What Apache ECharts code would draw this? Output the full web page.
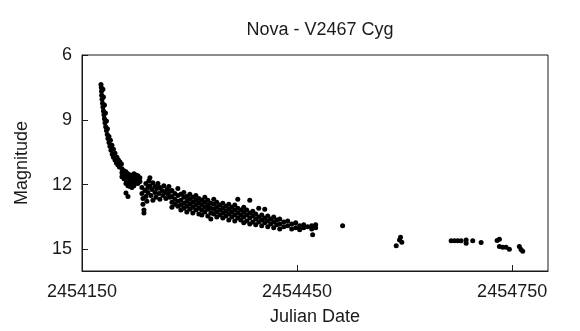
<!DOCTYPE html>
<html>
<head>
<meta charset="utf-8">
<title>Nova - V2467 Cyg</title>
<script src="https://cdn.jsdelivr.net/npm/echarts@6/dist/echarts.min.js"></script>
<style>
  html, body { margin: 0; padding: 0; background: #fff; }
  #chart { width: 580px; height: 331px; }
</style>
</head>
<body>
<div id="chart"></div>
<script>
// axis ticks
var xTicks = [2454150, 2454450, 2454750];
var yTicks = [6, 9, 12, 15];

// observations [Julian Date, magnitude], read off the picture
// fast decline right after discovery
var declineObs = [
  [2454176.5, 7.36], [2454176.9, 7.50], [2454177.2, 7.68], [2454177.4, 7.86], [2454177.9, 8.05],
  [2454178.6, 8.23], [2454179.2, 8.41], [2454179.9, 8.59], [2454180.6, 8.77], [2454181.3, 8.95],
  [2454182.0, 9.14], [2454183.0, 9.32], [2454184.1, 9.50], [2454185.2, 9.68], [2454186.2, 9.86],
  [2454187.6, 10.05], [2454189.0, 10.23], [2454190.4, 10.41], [2454192.2, 10.59], [2454193.9, 10.73],
  [2454196.0, 10.86], [2454198.0, 11.00], [2454200.1, 11.09], [2454202.2, 11.18],
  [2454179.2, 7.59], [2454179.9, 7.95], [2454181.3, 8.32], [2454182.7, 8.68], [2454184.1, 9.05],
  [2454185.5, 9.41], [2454187.6, 9.77], [2454189.7, 9.95], [2454191.8, 10.18], [2454193.9, 10.36],
  [2454196.0, 10.55], [2454198.7, 10.73], [2454200.8, 10.86], [2454202.9, 10.95], [2454205.0, 11.05]
];

// flat block around mag 11.5 - 12
var plateauObs = [
  [2454205.7, 11.27], [2454205.7, 11.45], [2454205.7, 11.64], [2454208.5, 11.36], [2454208.5, 11.55],
  [2454208.5, 11.73], [2454211.3, 11.41], [2454211.3, 11.59], [2454211.3, 11.77], [2454211.3, 11.95],
  [2454214.1, 11.50], [2454214.1, 11.68], [2454214.1, 11.86], [2454214.1, 12.05], [2454216.9, 11.55],
  [2454216.9, 11.73], [2454216.9, 11.91], [2454216.9, 12.09], [2454219.6, 11.59], [2454219.6, 11.77],
  [2454219.6, 11.95], [2454219.6, 12.14], [2454222.4, 11.50], [2454222.4, 11.68], [2454222.4, 11.86],
  [2454222.4, 12.05], [2454225.2, 11.55], [2454225.2, 11.73], [2454225.2, 11.91], [2454228.0, 11.59],
  [2454228.0, 11.77], [2454228.0, 11.95], [2454230.8, 11.68], [2454230.8, 11.86],
  [2454211.3, 12.39], [2454214.1, 12.55]
];

// scattered part after the plateau
var scatterObs = [
  [2454233.6, 12.14], [2454233.6, 12.41], [2454235.0, 12.64], [2454235.0, 12.91], [2454236.4, 13.18],
  [2454236.4, 13.32], [2454237.7, 12.27], [2454239.1, 11.95], [2454239.1, 12.55], [2454240.5, 12.77],
  [2454241.9, 12.14], [2454241.9, 12.36], [2454243.3, 11.82], [2454244.7, 11.68], [2454244.7, 12.05],
  [2454246.1, 12.50], [2454247.5, 12.23], [2454248.9, 11.91], [2454248.9, 12.73], [2454251.7, 12.09],
  [2454251.7, 12.36], [2454253.1, 12.59], [2454254.5, 12.18], [2454255.9, 11.95], [2454257.2, 12.41],
  [2454258.6, 12.14], [2454258.6, 12.68], [2454261.4, 12.27], [2454262.8, 12.50], [2454264.2, 12.05],
  [2454265.6, 12.36], [2454267.0, 12.64], [2454268.4, 12.23], [2454269.8, 12.45], [2454271.2, 12.09],
  [2454272.6, 12.32], [2454272.6, 12.59]
];

// slow fading band
var bandObs = [
  [2454275.4, 12.27], [2454275.4, 12.55], [2454275.4, 12.82], [2454275.4, 13.05],
  [2454279.5, 12.41], [2454279.5, 12.68], [2454279.5, 12.91],
  [2454283.7, 12.18], [2454283.7, 12.50], [2454283.7, 12.77], [2454283.7, 13.00],
  [2454287.9, 12.45], [2454287.9, 12.73], [2454287.9, 12.95], [2454287.9, 13.18],
  [2454292.1, 12.36], [2454292.1, 12.59], [2454292.1, 12.86], [2454292.1, 13.09],
  [2454296.2, 12.55], [2454296.2, 12.77], [2454296.2, 13.00], [2454296.2, 13.27],
  [2454300.4, 12.45], [2454300.4, 12.68], [2454300.4, 12.91], [2454300.4, 13.14],
  [2454304.6, 12.59], [2454304.6, 12.82], [2454304.6, 13.05], [2454304.6, 13.32],
  [2454308.8, 12.50], [2454308.8, 12.73], [2454308.8, 12.95], [2454308.8, 13.18],
  [2454313.0, 12.64], [2454313.0, 12.86], [2454313.0, 13.09], [2454313.0, 13.36],
  [2454317.1, 12.73], [2454317.1, 12.95], [2454317.1, 13.18], [2454317.1, 13.41],
  [2454321.3, 12.59], [2454321.3, 12.82], [2454321.3, 13.05], [2454321.3, 13.27],
  [2454325.5, 12.73], [2454325.5, 12.95], [2454325.5, 13.14], [2454325.5, 13.45],
  [2454329.7, 12.86], [2454329.7, 13.09], [2454329.7, 13.32], [2454329.7, 13.59],
  [2454333.8, 12.68], [2454333.8, 12.91], [2454333.8, 13.14], [2454333.8, 13.36],
  [2454338.0, 12.82], [2454338.0, 13.05], [2454338.0, 13.27], [2454338.0, 13.50],
  [2454342.2, 12.95], [2454342.2, 13.18], [2454342.2, 13.41],
  [2454346.4, 12.86], [2454346.4, 13.09], [2454346.4, 13.32], [2454346.4, 13.55],
  [2454350.6, 13.00], [2454350.6, 13.23], [2454350.6, 13.45],
  [2454354.7, 12.91], [2454354.7, 13.14], [2454354.7, 13.36], [2454354.7, 13.64],
  [2454358.9, 13.05], [2454358.9, 13.27], [2454358.9, 13.50],
  [2454363.1, 12.95], [2454363.1, 13.18], [2454363.1, 13.41], [2454363.1, 13.68],
  [2454367.3, 12.68], [2454367.3, 13.09], [2454367.3, 13.32], [2454367.3, 13.55],
  [2454371.5, 13.18], [2454371.5, 13.41], [2454371.5, 13.64],
  [2454375.6, 13.05], [2454375.6, 13.27], [2454375.6, 13.50], [2454375.6, 13.77],
  [2454379.8, 13.18], [2454379.8, 13.41], [2454379.8, 13.68],
  [2454384.0, 12.73], [2454384.0, 13.32], [2454384.0, 13.55], [2454384.0, 13.82],
  [2454388.2, 13.23], [2454388.2, 13.45], [2454388.2, 13.73],
  [2454392.3, 13.36], [2454392.3, 13.59], [2454392.3, 13.86],
  [2454396.5, 13.09], [2454396.5, 13.50], [2454396.5, 13.73],
  [2454400.7, 13.41], [2454400.7, 13.64], [2454400.7, 13.91],
  [2454404.9, 13.14], [2454404.9, 13.55], [2454404.9, 13.77],
  [2454409.1, 13.45], [2454409.1, 13.68], [2454409.1, 13.95],
  [2454413.2, 13.59], [2454413.2, 13.82],
  [2454417.4, 13.50], [2454417.4, 13.73], [2454417.4, 14.00],
  [2454421.6, 13.64], [2454421.6, 13.86],
  [2454425.8, 13.59], [2454425.8, 13.82], [2454425.8, 14.05],
  [2454431.4, 13.73], [2454431.4, 13.95],
  [2454436.9, 13.68], [2454436.9, 13.91],
  [2454442.5, 13.82], [2454442.5, 14.05],
  [2454448.1, 13.77], [2454448.1, 14.00],
  [2454453.6, 13.91], [2454453.6, 14.09],
  [2454459.2, 13.86], [2454459.2, 14.00],
  [2454464.8, 13.95],
  [2454470.4, 13.91], [2454470.4, 14.05],
  [2454475.9, 13.86], [2454475.9, 14.00],
  [2454471.7, 14.32]
];

// sparse late observations
var lateObs = [
  [2454513.5, 13.91],
  [2454594.3, 14.44], [2454592.9, 14.56], [2454596.1, 14.67], [2454588.3, 14.83],
  [2454664.9, 14.60], [2454669.5, 14.60], [2454674.1, 14.60], [2454678.8, 14.60],
  [2454685.8, 14.56], [2454685.8, 14.71], [2454695.0, 14.60], [2454706.7, 14.68],
  [2454729.0, 14.59], [2454732.2, 14.53], [2454732.2, 14.86], [2454736.8, 14.90],
  [2454741.5, 14.90], [2454746.1, 14.99], [2454760.0, 14.86], [2454762.4, 15.01],
  [2454764.7, 15.09]
];

var allObs = declineObs.concat(plateauObs, scatterObs, bandObs, lateObs);

var font = 'Liberation Sans, Arial, Helvetica, sans-serif';
var chart = echarts.init(document.getElementById('chart'));
chart.setOption({
  animation: false,
  backgroundColor: '#fff',
  title: {
    text: 'Nova - V2467 Cyg',
    left: 315,
    top: 16,
    textAlign: 'center',
    textStyle: {fontFamily: font, fontSize: 18, fontWeight: 'normal', color: '#1a1a1a'}
  },
  grid: {
    left: 82,
    right: 32,
    top: 55,
    bottom: 56,
    show: true,
    borderColor: '#1a1a1a',
    borderWidth: 1
  },
  xAxis: {
    type: 'value',
    min: xTicks[0],
    max: 2454800,
    interval: 300,
    name: 'Julian Date',
    nameLocation: 'middle',
    nameGap: 37,
    nameTextStyle: {fontFamily: font, fontSize: 18, color: '#1a1a1a'},
    axisLine: {show: true, onZero: false, lineStyle: {color: '#1a1a1a', width: 1}},
    axisTick: {show: true, inside: true, length: 6, lineStyle: {color: '#1a1a1a'}},
    axisLabel: {
      fontFamily: font, fontSize: 18, color: '#1a1a1a', margin: 12,
      showMaxLabel: false,
      formatter: function (v) { return xTicks.indexOf(v) >= 0 ? String(v) : ''; }
    },
    splitLine: {show: false}
  },
  yAxis: {
    type: 'value',
    inverse: true,
    min: yTicks[0],
    max: 16,
    interval: 3,
    name: 'Magnitude',
    nameLocation: 'middle',
    nameGap: 51,
    nameTextStyle: {fontFamily: font, fontSize: 18, color: '#1a1a1a'},
    axisLine: {show: true, onZero: false, lineStyle: {color: '#1a1a1a', width: 1}},
    axisTick: {show: true, inside: true, length: 6, lineStyle: {color: '#1a1a1a'}},
    axisLabel: {
      fontFamily: font, fontSize: 18, color: '#1a1a1a', margin: 10,
      showMaxLabel: false,
      formatter: function (v) { return yTicks.indexOf(v) >= 0 ? String(v) : ''; }
    },
    splitLine: {show: false}
  },
  series: [{
    type: 'scatter',
    symbol: 'circle',
    symbolSize: 5,
    itemStyle: {color: '#000', opacity: 1},
    data: allObs
  }]
});
</script>
</body>
</html>
